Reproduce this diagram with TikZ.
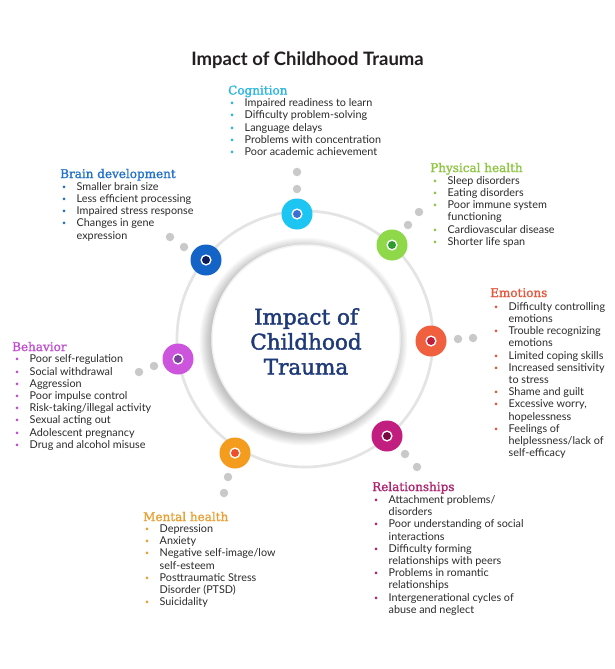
\documentclass[tikz,border=0pt]{standalone}
\usepackage{fontspec}
\setmainfont{Lato}
\newfontfamily\slab[FakeBold=1.3]{DejaVu Serif}
\newfontfamily\slabc[FakeBold=1.8]{DejaVu Serif}
\definecolor{txt}{HTML}{2B2B2B}
\definecolor{ttl}{HTML}{231F20}
\definecolor{navy}{HTML}{1F3A78}
\definecolor{ringgray}{HTML}{E4E4E4}
\definecolor{dotgray}{HTML}{C9C9C9}
\definecolor{cogT}{HTML}{29B6E0}\definecolor{cogH}{HTML}{1DC5F2}\definecolor{cogI}{HTML}{3B6FD0}
\definecolor{brT}{HTML}{2372C9}\definecolor{brH}{HTML}{1464C8}\definecolor{brI}{HTML}{0E1A5A}
\definecolor{phT}{HTML}{8DC641}\definecolor{phH}{HTML}{8ED84A}\definecolor{phI}{HTML}{2E9D30}
\definecolor{emT}{HTML}{E4573D}\definecolor{emH}{HTML}{F0603E}\definecolor{emI}{HTML}{C21D3B}
\definecolor{beT}{HTML}{C04FCF}\definecolor{beH}{HTML}{CD55DE}\definecolor{beI}{HTML}{7B3F9C}
\definecolor{mhT}{HTML}{E8A033}\definecolor{mhH}{HTML}{F39C1E}\definecolor{mhI}{HTML}{EF4E2E}
\definecolor{reT}{HTML}{AE2370}\definecolor{reH}{HTML}{C21E80}\definecolor{reI}{HTML}{7A0942}
\newcommand\li[2]{\makebox[16.5pt][l]{\hspace{2pt}\textcolor{#1}{\raisebox{1pt}{\scalebox{.65}{\textbullet}}}} & #2\\}
\newcommand\lc[1]{ & #1\\}
\tikzset{
  hub/.style 2 args={circle, fill=#1, minimum size=31pt, inner sep=0pt,
    path picture={\fill[white] (path picture bounding box.center) circle (5.6pt);
                  \fill[#2] (path picture bounding box.center) circle (4pt);}},
  gdot/.style={circle, fill=dotgray, minimum size=8.5pt, inner sep=0pt},
  head/.style={anchor=base west, inner sep=0pt, font=\slab\fontsize{12}{12}\selectfont, text=#1},
  blist/.style={anchor=base west, inner sep=0pt, text=txt, font=\fontsize{10.8}{12.2}\selectfont}
}
\begin{document}
\begin{tikzpicture}[x=1pt,y=-1pt]
\useasboundingbox (0,0) rectangle (615,669);
\fill[white] (0,0) rectangle (615,669);
\begin{scope}
\clip (0,0) rectangle (615,669);
% title
\node[anchor=base, inner sep=0pt, text=ttl, font=\bfseries\fontsize{18.5}{18.5}\selectfont] (title) at (307.5,66) {Impact of Childhood Trauma};
% ring
\coordinate (c0) at (305,339);
\draw[ringgray, line width=2.7pt] (c0) circle (128pt);
% soft shadow of the centre disc
\foreach \r in {1,...,10}{
  \fill[black, opacity=0.022] (303.5,341.5) circle ({93pt+\r*1.1pt});
}
% centre
\node[circle, fill=white, draw=black!5, line width=1.5pt, minimum size=188pt, inner sep=0pt] (ctr) at (306,339) {};
\node[align=center, text=navy, inner sep=0pt, font=\slabc\fontsize{21.5}{25}\selectfont] (ctrtext) at (306,341.5) {Impact of\\Childhood\\Trauma};
% hubs
\node[hub={cogH}{cogI}] (cog) at (297,214) {};
\node[hub={brH}{brI}] (brain) at (206,260) {};
\node[hub={phH}{phI}] (phys) at (392,245) {};
\node[hub={emH}{emI}] (emo) at (431,341) {};
\node[hub={beH}{beI}] (beh) at (178,359) {};
\node[hub={mhH}{mhI}] (ment) at (235,453) {};
\node[hub={reH}{reI}] (rel) at (387,436) {};
% grey dots
\node[gdot] (cog1) at (297,189) {};
\node[gdot] (cog2) at (297,172) {};
\node[gdot] (br1) at (184,247) {};
\node[gdot] (br2) at (170,237) {};
\node[gdot] (ph1) at (408,225) {};
\node[gdot] (ph2) at (419,212) {};
\node[gdot] (em1) at (458,339) {};
\node[gdot] (em2) at (473,338) {};
\node[gdot] (be1) at (154,366) {};
\node[gdot] (be2) at (139,372) {};
\node[gdot] (mh1) at (228,477) {};
\node[gdot] (mh2) at (224,493) {};
\node[gdot] (re1) at (405,454) {};
\node[gdot] (re2) at (417,467) {};
% Cognition
\node[head=cogT] (cogh) at (228,94.5) {Cognition};
\node[blist] (cogl) at (228,106.8) {\begin{tabular}[t]{@{}l@{}l@{}}
\li{cogT}{Impaired readiness to learn}
\li{cogT}{Difficulty problem-solving}
\li{cogT}{Language delays}
\li{cogT}{Problems with concentration}
\li{cogT}{Poor academic achievement}
\end{tabular}};
% Brain development
\node[head=brT] (brh) at (60,178) {Brain development};
\node[blist] (brl) at (60,190.2) {\begin{tabular}[t]{@{}l@{}l@{}}
\li{brT}{Smaller brain size}
\li{brT}{Less efficient processing}
\li{brT}{Impaired stress response}
\li{brT}{Changes in gene}
\lc{expression}
\end{tabular}};
% Physical health
\node[head=phT] (phh) at (430,172) {Physical health};
\node[blist] (phl) at (431,184.2) {\begin{tabular}[t]{@{}l@{}l@{}}
\li{phT}{Sleep disorders}
\li{phT}{Eating disorders}
\li{phT}{Poor immune system}
\lc{functioning}
\li{phT}{Cardiovascular disease}
\li{phT}{Shorter life span}
\end{tabular}};
% Emotions
\node[head=emT] (emh) at (490,297) {Emotions};
\node[blist] (eml) at (492,310.2) {\begin{tabular}[t]{@{}l@{}l@{}}
\li{emT}{Difficulty controlling}
\lc{emotions}
\li{emT}{Trouble recognizing}
\lc{emotions}
\li{emT}{Limited coping skills}
\li{emT}{Increased sensitivity}
\lc{to stress}
\li{emT}{Shame and guilt}
\li{emT}{Excessive worry,}
\lc{hopelessness}
\li{emT}{Feelings of}
\lc{helplessness/lack of}
\lc{self-efficacy}
\end{tabular}};
% Behavior
\node[head=beT] (behh) at (12,351) {Behavior};
\node[blist] (bel) at (13,362.8) {\begin{tabular}[t]{@{}l@{}l@{}}
\li{beT}{Poor self-regulation}
\li{beT}{Social withdrawal}
\li{beT}{Aggression}
\li{beT}{Poor impulse control}
\li{beT}{Risk-taking/illegal activity}
\li{beT}{Sexual acting out}
\li{beT}{Adolescent pregnancy}
\li{beT}{Drug and alcohol misuse}
\end{tabular}};
% Mental health
\node[head=mhT] (mhh) at (143,521) {Mental health};
\node[blist] (mhl) at (143,532.5) {\begin{tabular}[t]{@{}l@{}l@{}}
\li{mhT}{Depression}
\li{mhT}{Anxiety}
\li{mhT}{Negative self-image/low}
\lc{self-esteem}
\li{mhT}{Posttraumatic Stress}
\lc{Disorder (PTSD)}
\li{mhT}{Suicidality}
\end{tabular}};
% Relationships
\node[head=reT] (reh) at (372,491) {Relationships};
\node[blist] (rell) at (372,503.5) {\begin{tabular}[t]{@{}l@{}l@{}}
\li{reT}{Attachment problems/}
\lc{disorders}
\li{reT}{Poor understanding of social}
\lc{interactions}
\li{reT}{Difficulty forming}
\lc{relationships with peers}
\li{reT}{Problems in romantic}
\lc{relationships}
\li{reT}{Intergenerational cycles of}
\lc{abuse and neglect}
\end{tabular}};
\end{scope}
\end{tikzpicture}
\end{document}
